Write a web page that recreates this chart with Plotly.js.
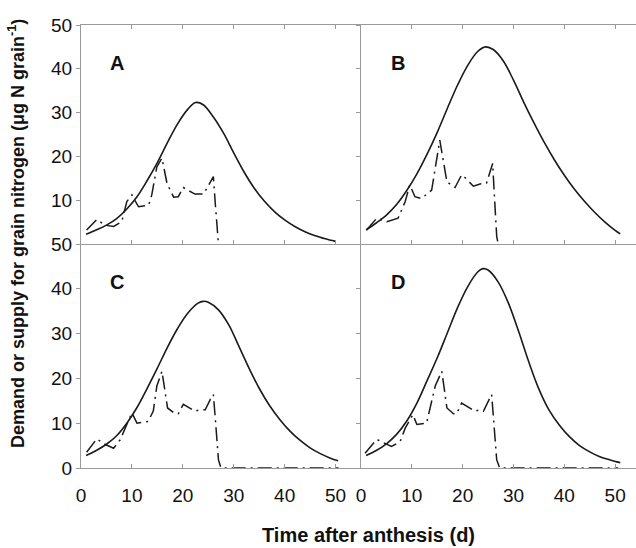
<!DOCTYPE html>
<html>
<head>
<meta charset="utf-8">
<script src="https://cdn.plot.ly/plotly-3.0.1.min.js"></script>
<style>html,body{margin:0;padding:0;background:#fff;}#chart{width:636px;height:548px;}</style>
</head>
<body>
<div id="chart"></div>
<script>
// ---- Data ----
const panelLabels = ['A', 'B', 'C', 'D'];
const xTickVals = [0, 10, 20, 30, 40, 50];
const yTickValsTop = [10, 20, 30, 40, 50];
const yTickValsBottom = [0, 10, 20, 30, 40, 50];

// Demand (solid curves)
const demandDaysA = [1,3,5,7,9,11,13,15,17,19,21,22.5,24,26,28,30,32,34,36,38,40,42,44,46,48,50];
const demandA = [2.2,3.2,4.3,5.8,8.0,10.8,14.5,18.6,23.2,27.5,30.8,32.3,31.8,29.0,25.3,20.8,16.5,12.8,9.8,7.4,5.5,4.0,2.8,1.9,1.2,0.6];
const demandDaysB = [1,3,5,7,9,11,13,15,17,19,21,23,24.5,26,28,30,32,34,36,38,40,42,44,46,48,50,51];
const demandB = [3.2,4.8,6.6,9.0,12.2,16.0,20.5,25.5,31.0,36.3,40.8,44.0,45.0,44.4,41.8,37.4,32.4,27.7,23.3,19.3,15.7,12.5,9.7,7.2,5.0,3.1,2.3];
const demandDaysC = [1,3,5,7,9,11,13,15,17,19,21,23,24,25,27,29,31,33,35,37,39,41,43,45,47,49,50.5];
const demandC = [2.8,3.9,5.3,7.2,10.0,13.5,17.8,22.3,27.0,31.2,34.6,36.8,37.2,37.0,35.3,32.0,27.2,22.3,17.8,14.0,10.9,8.3,6.2,4.5,3.2,2.2,1.6];
const demandDaysD = [1,3,5,7,9,11,13,15,17,19,21,23,24,25,27,29,31,33,35,37,39,41,43,45,47,49,51];
const demandD = [2.8,3.9,5.4,7.5,10.5,14.5,19.5,24.6,30.2,35.8,40.5,43.8,44.5,44.2,41.5,36.8,30.5,23.7,17.6,12.9,9.6,7.0,5.0,3.6,2.5,1.8,1.2];

// Supply (dash-dot curves)
const supplyDaysA = [1.1,3.1,4.7,6.4,8.0,9.0,10.0,10.6,11.3,13.3,13.9,14.9,15.9,16.9,18.2,19.1,20.1,21.1,22.4,24.1,26.0,26.4,26.8,27.0];
const supplyA = [3.2,5.6,4.3,4.0,5.1,9.7,11.2,10.0,8.5,8.9,11.2,17.6,19.6,13.8,10.7,10.8,12.9,12.2,11.4,11.4,15.4,8.9,2.0,0];
const supplyDaysB = [1.1,3.1,5.1,7.3,8.7,9.6,10.6,11.9,13.9,14.9,15.5,16.9,18.5,19.8,20.6,22.1,23.4,24.7,25.9,26.2,26.7,27.0];
const supplyB = [3.2,5.9,5.1,5.9,9.7,13.5,10.8,10.4,12.3,19.2,23.7,14.2,12.9,15.8,15.0,13.2,13.7,13.9,18.4,11.9,1.7,0];
const supplyDaysC = [1.1,3.1,4.7,6.4,7.7,8.7,10.0,11.0,13.2,14.2,14.9,15.9,16.5,17.0,18.5,19.1,20.1,22.4,23.4,24.4,25.4,26.0,26.4,27.0,27.5,50.6];
const supplyC = [3.5,6.5,5.3,4.4,6.3,8.9,12.3,10.0,10.4,12.7,18.3,21.6,16.8,13.4,12.1,12.1,14.2,12.7,13.0,13.0,15.3,16.4,10.8,1.8,0,0];
const supplyDaysD = [0.8,3.1,4.7,6.0,7.7,8.7,10.2,11.0,12.9,14.6,15.9,16.5,16.9,18.2,18.8,19.8,22.4,23.4,24.1,25.7,26.2,26.7,27.3,50.6];
const supplyD = [3.3,6.4,5.5,4.8,5.9,8.9,11.9,9.7,10.0,18.3,21.6,16.0,13.4,12.1,12.1,14.5,12.7,13.0,12.7,16.4,10.0,1.8,0,0];

// ---- Layout geometry (pixels) ----
const W = 636, H = 548;
const px = v => v / W;
const py = v => 1 - v / H;
const FONT = 'Arial, "Liberation Sans", sans-serif';
const INK = '#1a1a1a';

const demandLine = {color: INK, width: 1.6, shape: 'spline', smoothing: 1.0};
const supplyLine = {color: INK, width: 1.5, dash: '14px,5px,2px,5px'};

const sets = [
  [demandDaysA, demandA, supplyDaysA, supplyA],
  [demandDaysB, demandB, supplyDaysB, supplyB],
  [demandDaysC, demandC, supplyDaysC, supplyC],
  [demandDaysD, demandD, supplyDaysD, supplyD]
];
const traces = [];
sets.forEach((s, i) => {
  const xa = i === 0 ? 'x' : 'x' + (i + 1);
  const ya = i === 0 ? 'y' : 'y' + (i + 1);
  traces.push({x: s[0], y: s[1], xaxis: xa, yaxis: ya, mode: 'lines', line: demandLine, hoverinfo: 'skip'});
  traces.push({x: s[2], y: s[3], xaxis: xa, yaxis: ya, mode: 'lines', line: supplyLine, hoverinfo: 'skip'});
});

const common = {
  showline: true, linecolor: '#9a9a9a', linewidth: 1,
  tickcolor: '#9a9a9a', ticklen: 4, tickwidth: 1,
  showgrid: false, zeroline: false, fixedrange: true,
  tickfont: {family: FONT, size: 19, color: '#111'}
};
const xL = [px(81), px(361)], xR = [px(361), 1];
const yT = [py(244), py(25)], yB = [py(468), py(244)];

const layout = {
  width: W, height: H,
  margin: {l: 0, r: 0, t: 0, b: 0},
  paper_bgcolor: '#fff', plot_bgcolor: 'rgba(0,0,0,0)',
  showlegend: false,
  xaxis: Object.assign({}, common, {domain: xL, range: [0, 55], anchor: 'y', ticks: 'inside', tickvals: xTickVals, showticklabels: false, mirror: 'ticks'}),
  yaxis: Object.assign({}, common, {domain: yT, range: [0, 50], anchor: 'x', ticks: 'outside', tickvals: yTickValsTop}),
  xaxis2: Object.assign({}, common, {domain: xR, range: [0, 54.1], anchor: 'y2', ticks: 'inside', tickvals: xTickVals, showticklabels: false, mirror: 'ticks'}),
  yaxis2: Object.assign({}, common, {domain: yT, range: [0, 50], anchor: 'x2', ticks: 'outside', tickvals: yTickValsTop, showticklabels: false}),
  xaxis3: Object.assign({}, common, {domain: xL, range: [0, 55], anchor: 'y3', ticks: 'inside', tickvals: xTickVals, ticklabelstandoff: 10}),
  yaxis3: Object.assign({}, common, {domain: yB, range: [0, 50], anchor: 'x3', ticks: 'outside', tickvals: yTickValsBottom}),
  xaxis4: Object.assign({}, common, {domain: xR, range: [0, 54.1], anchor: 'y4', ticks: 'inside', tickvals: xTickVals, ticklabelstandoff: 10}),
  yaxis4: Object.assign({}, common, {domain: yB, range: [0, 50], anchor: 'x4', ticks: 'outside', tickvals: yTickValsBottom, showticklabels: false}),
  annotations: [
    {text: '<b>' + panelLabels[0] + '</b>', x: px(117), y: py(63)},
    {text: '<b>' + panelLabels[1] + '</b>', x: px(398), y: py(63)},
    {text: '<b>' + panelLabels[2] + '</b>', x: px(117), y: py(282)},
    {text: '<b>' + panelLabels[3] + '</b>', x: px(398), y: py(282)}
  ].map(a => Object.assign(a, {xref: 'paper', yref: 'paper', showarrow: false, xanchor: 'center', yanchor: 'middle', font: {family: FONT, size: 20, color: '#111'}})).concat([
    {text: '<b>Time after anthesis (d)</b>', xref: 'paper', yref: 'paper', x: px(368), y: py(535), showarrow: false, xanchor: 'center', yanchor: 'middle', font: {family: FONT, size: 20, color: '#111'}},
    {text: '<b>Demand or supply for grain nitrogen (μg N grain<sup>-1</sup>)</b>', xref: 'paper', yref: 'paper', x: px(16), y: py(234), textangle: -90, showarrow: false, xanchor: 'center', yanchor: 'middle', font: {family: FONT, size: 18, color: '#111'}}
  ])
};

Plotly.newPlot('chart', traces, layout, {staticPlot: true, displayModeBar: false});
</script>
</body>
</html>
